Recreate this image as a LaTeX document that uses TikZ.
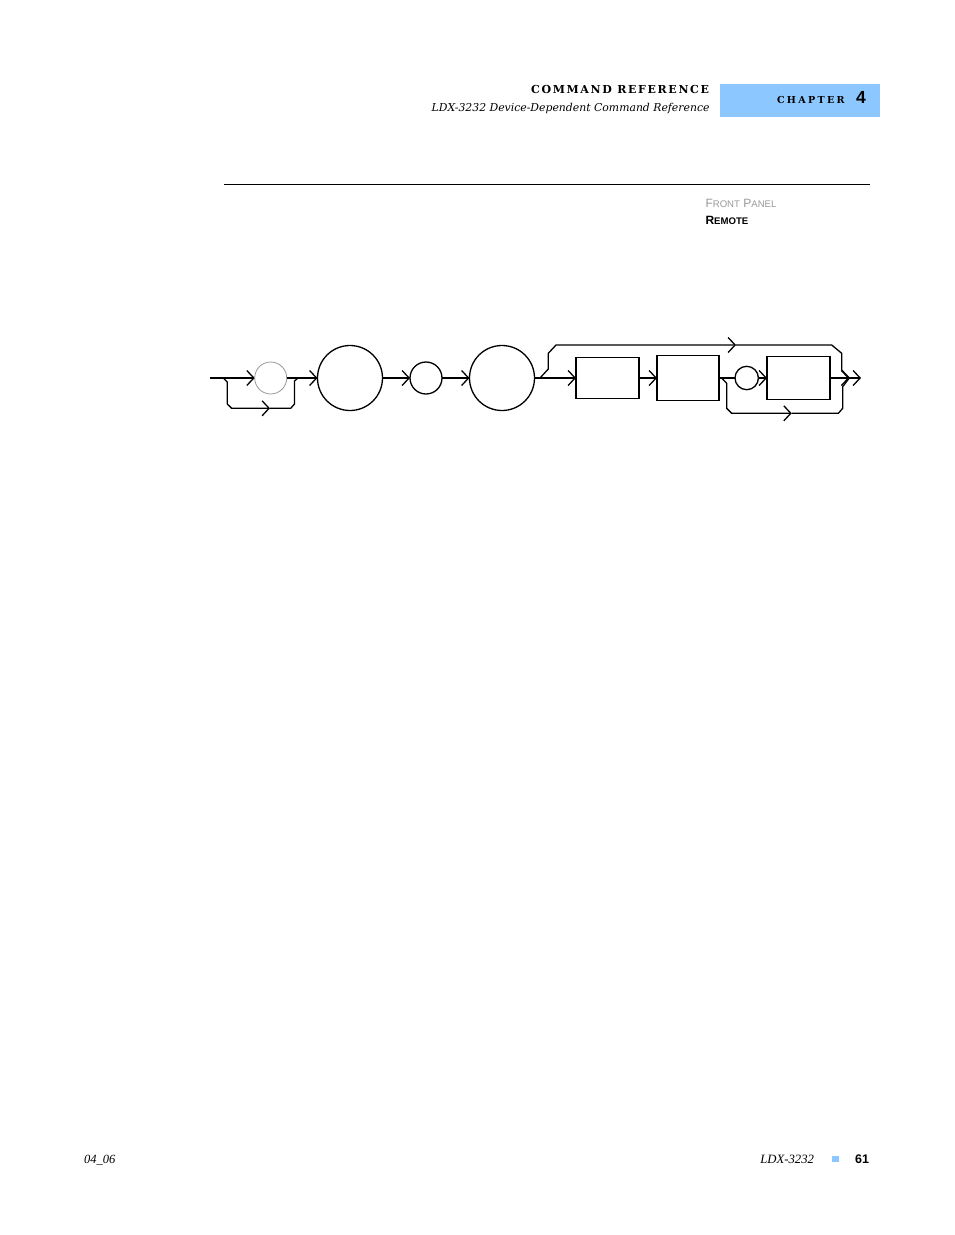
\documentclass[tikz,border=0pt]{standalone}
\usepackage{fontspec}
\setmainfont{DejaVu Serif}
\newfontfamily\hdrfont[LetterSpace=15]{DejaVu Serif}
\newfontfamily\chapfont[LetterSpace=24]{DejaVu Serif}
\newfontfamily\sansfont{Liberation Sans}
\newfontfamily\footfont{Liberation Serif}
\usetikzlibrary{arrows.meta}
\definecolor{chapblue}{RGB}{140,200,255}
\begin{document}
\begin{tikzpicture}[x=1pt,y=-1pt,
  every node/.style={inner sep=0pt,outer sep=0pt},
  conn/.style={line width=1.3pt,-{Straight Barb[length=7pt,width=15pt,line width=1.3pt]}},
  plain/.style={line width=1.3pt},
  circ/.style={circle,draw,line width=1.3pt},
  rbox/.style={rectangle,draw,line width=1.4pt},
  txt/.style={inner sep=0pt}]
\useasboundingbox (0,0) rectangle (954,1235);
\fill[white] (0,0) rectangle (954,1235);

% header
\fill[chapblue] (720,84) rectangle (880,116.7);
\node[txt,anchor=base east] (hdr) at (709,93.3) {\fontsize{11}{13}\selectfont\hdrfont\bfseries COMMAND REFERENCE};
\node[txt,anchor=base east] (sub) at (709.5,111) {\fontsize{10.85}{13}\selectfont\itshape LDX-3232 Device-Dependent Command Reference};
\node[txt,anchor=base west] (chap) at (777,103.3) {\fontsize{9.6}{12}\selectfont\chapfont\bfseries CHAPTER};
\node[txt,anchor=base west] (chnum) at (856,103.3) {\fontsize{17.5}{20}\selectfont\sansfont\bfseries 4};
\draw[line width=1pt] (224,184.3) -- (870,184.3);
\node[txt,anchor=base west,text=black!40] (fp) at (705.5,207.3) {\sansfont\fontsize{12}{14}\selectfont F{\fontsize{9.6}{11}\selectfont RONT} P{\fontsize{9.6}{11}\selectfont ANEL}};
\node[txt,anchor=base west] (rm) at (705.5,224) {\sansfont\bfseries\fontsize{12}{14}\selectfont R{\fontsize{9.6}{11}\selectfont EMOTE}};

% diagram nodes
\node[circle,draw=black!40,line width=0.8pt,minimum size=32pt] (g) at (270.7,378) {};
\node[circ,minimum size=65pt] (c1) at (350,378) {};
\node[circ,minimum size=32pt] (c2) at (426,378) {};
\node[circ,minimum size=65pt] (c3) at (502,378) {};
\node[rbox,minimum width=63pt,minimum height=41pt] (b1) at (607.5,378) {};
\node[rbox,minimum width=62pt,minimum height=45pt] (b2) at (688,378) {};
\node[circ,minimum size=23.4pt] (c4) at (746.7,378) {};
\node[rbox,minimum width=63pt,minimum height=43pt] (b3) at (798.5,378) {};
\coordinate (s) at (210,378);
\coordinate (m) at (849.3,378);
\coordinate (e) at (861,378);

% main line
\draw[conn] (s) -- (g);
\draw[conn] (g) -- (c1);
\draw[conn] (c1) -- (c2);
\draw[conn] (c2) -- (c3);
\draw[conn] (c3) -- (b1);
\draw[conn] (b1) -- (b2);
\draw[plain] (b2) -- (c4);
\draw[conn] (c4) -- (b3);
\draw[conn] (b3) -- (m);
\draw[conn] (m) -- (e);

% first bypass (optional gray circle)
\coordinate (l1) at (223.3,378);
\coordinate (l2) at (298,378);
\draw[conn,line join=round] (l1) -- (227.3,382) -- (227.3,404) -- (231.7,408.3) -- (270,408.3);
\draw[plain,line join=round] (270,408.3) -- (290.7,408.3) -- (294.5,404) -- (294.5,381) -- (l2);

% top bypass
\coordinate (t1) at (540,378);
\draw[conn,line join=round] (t1) -- (548.3,369) -- (548.3,353.3) -- (556,345) -- (736,345);
\draw[plain,line join=round] (736,345) -- (831.7,345) -- (841.7,353.3) -- (841.7,370) -- (m);

% bottom bypass
\coordinate (u1) at (721.7,378);
\draw[conn,line join=round] (u1) -- (726.7,383.3) -- (726.7,408.3) -- (731.7,413.3) -- (791.7,413.3);
\draw[plain,line join=round] (791.7,413.3) -- (838.3,413.3) -- (842.7,408.3) -- (842.7,386.7) -- (m);

% footer
\node[txt,anchor=base west] (f1) at (84,1163) {\footfont\itshape\fontsize{12.5}{14}\selectfont 04\_06};
\node[txt,anchor=base east] (f2) at (814,1163) {\footfont\itshape\fontsize{12.7}{14}\selectfont LDX-3232};
\fill[chapblue] (831.7,1155.5) rectangle (839,1162.3);
\node[txt,anchor=base east] (f3) at (869,1163.5) {\sansfont\bfseries\fontsize{12.5}{14}\selectfont 61};
\end{tikzpicture}
\end{document}
